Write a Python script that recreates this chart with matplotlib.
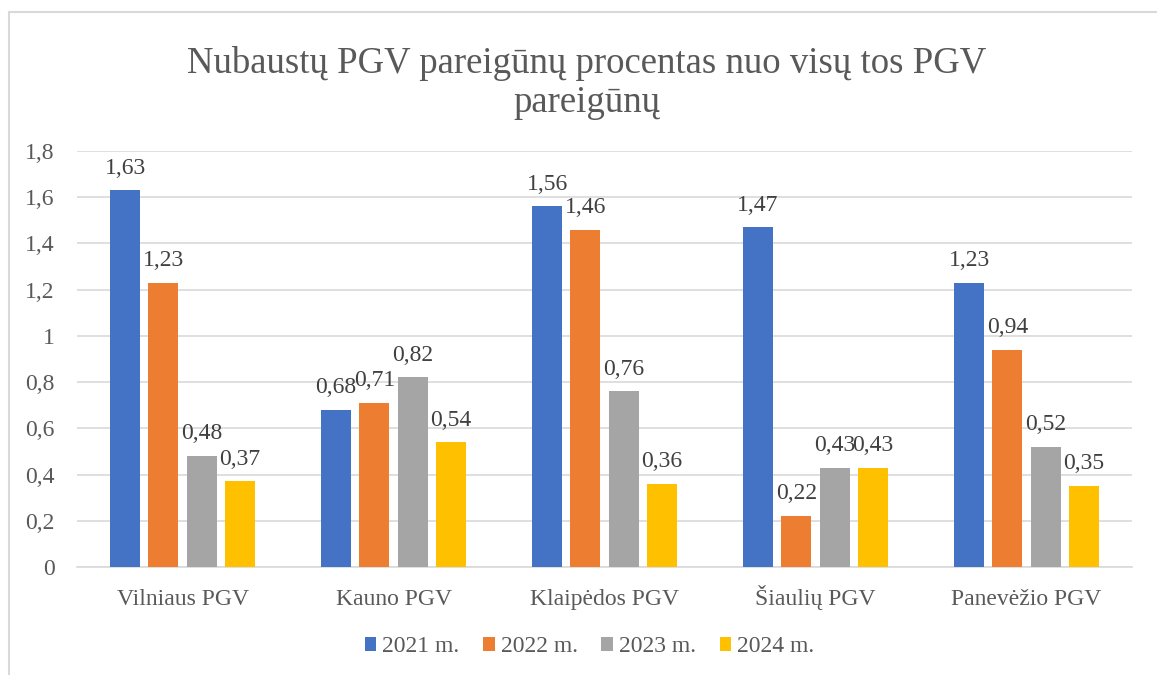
import matplotlib.pyplot as plt
import numpy as np

categories = ['Vilniaus PGV', 'Kauno PGV', 'Klaipėdos PGV', 'Šiaulių PGV', 'Panevėžio PGV']
series_names = ['2021 m.', '2022 m.', '2023 m.', '2024 m.']
v2021 = [1.63, 0.68, 1.56, 1.47, 1.23]
v2022 = [1.23, 0.71, 1.46, 0.22, 0.94]
v2023 = [0.48, 0.82, 0.76, 0.43, 0.52]
v2024 = [0.37, 0.54, 0.36, 0.43, 0.35]
colors = ['#4472C4', '#ED7D31', '#A5A5A5', '#FFC000']
text_color = '#595959'

plt.rcParams['font.family'] = ['Liberation Serif', 'DejaVu Serif']

fig = plt.figure(figsize=(11.57, 6.75), dpi=100)
ax = fig.add_axes([0.0666, 0.16, 0.9118, 0.6163])

x = np.arange(len(categories))
width = 0.142
step = 0.1815
for i, (vals, name) in enumerate(zip([v2021, v2022, v2023, v2024], series_names)):
    pos = x + (i - 1.5) * step
    ax.bar(pos, vals, width, color=colors[i], label=name, zorder=3)
    for px, v in zip(pos, vals):
        ax.annotate(f'{v:.2f}'.replace('.', ','), (px, v), xytext=(0, 12),
                    textcoords='offset points', ha='center', va='baseline',
                    fontsize=17, color='#404040')

ax.set_xlim(-0.5, len(categories) - 0.5)
ax.set_ylim(0, 1.8)
yt = np.arange(0, 1.81, 0.2)
ax.set_yticks(yt)
ylabels = []
for t in yt:
    s = '%.1f' % t
    if s.endswith('.0'):
        s = s[:-2]
    ylabels.append(s.replace('.', ','))
ax.set_yticklabels(ylabels)
ax.set_xticks(x)
ax.set_xticklabels(categories)
ax.tick_params(axis='x', length=0, labelsize=17, colors=text_color, pad=27.5)
ax.tick_params(axis='y', length=0, labelsize=17, colors=text_color, pad=16)
for lbl in ax.get_xticklabels():
    lbl.set_va('baseline')
ax.grid(axis='y', color='#D9D9D9', linewidth=1.2, zorder=0)
for s in ['top', 'right', 'left']:
    ax.spines[s].set_visible(False)
ax.spines['bottom'].set_color('#D9D9D9')
ax.spines['bottom'].set_linewidth(1.2)

fig.text(0.507, 0.877, 'Nubaustų PGV pareigūnų procentas nuo visų tos PGV\npareigūnų',
         ha='center', va='center', fontsize=26.5, color=text_color, linespacing=1.15)

fig.legend(loc='center', bbox_to_anchor=(0.5095, 0.0415), ncol=4, frameon=False,
           fontsize=17, handlelength=0.5, handleheight=0.5, columnspacing=1.0,
           handletextpad=0.25, labelcolor=text_color, borderpad=0)

fig.patches.append(plt.Rectangle((9 / 1157, -0.1), 1.2, 1.1 - 12 / 675, transform=fig.transFigure,
                                 fill=False, edgecolor='#D9D9D9', linewidth=1.5))

fig.savefig('out.png', dpi=100)
